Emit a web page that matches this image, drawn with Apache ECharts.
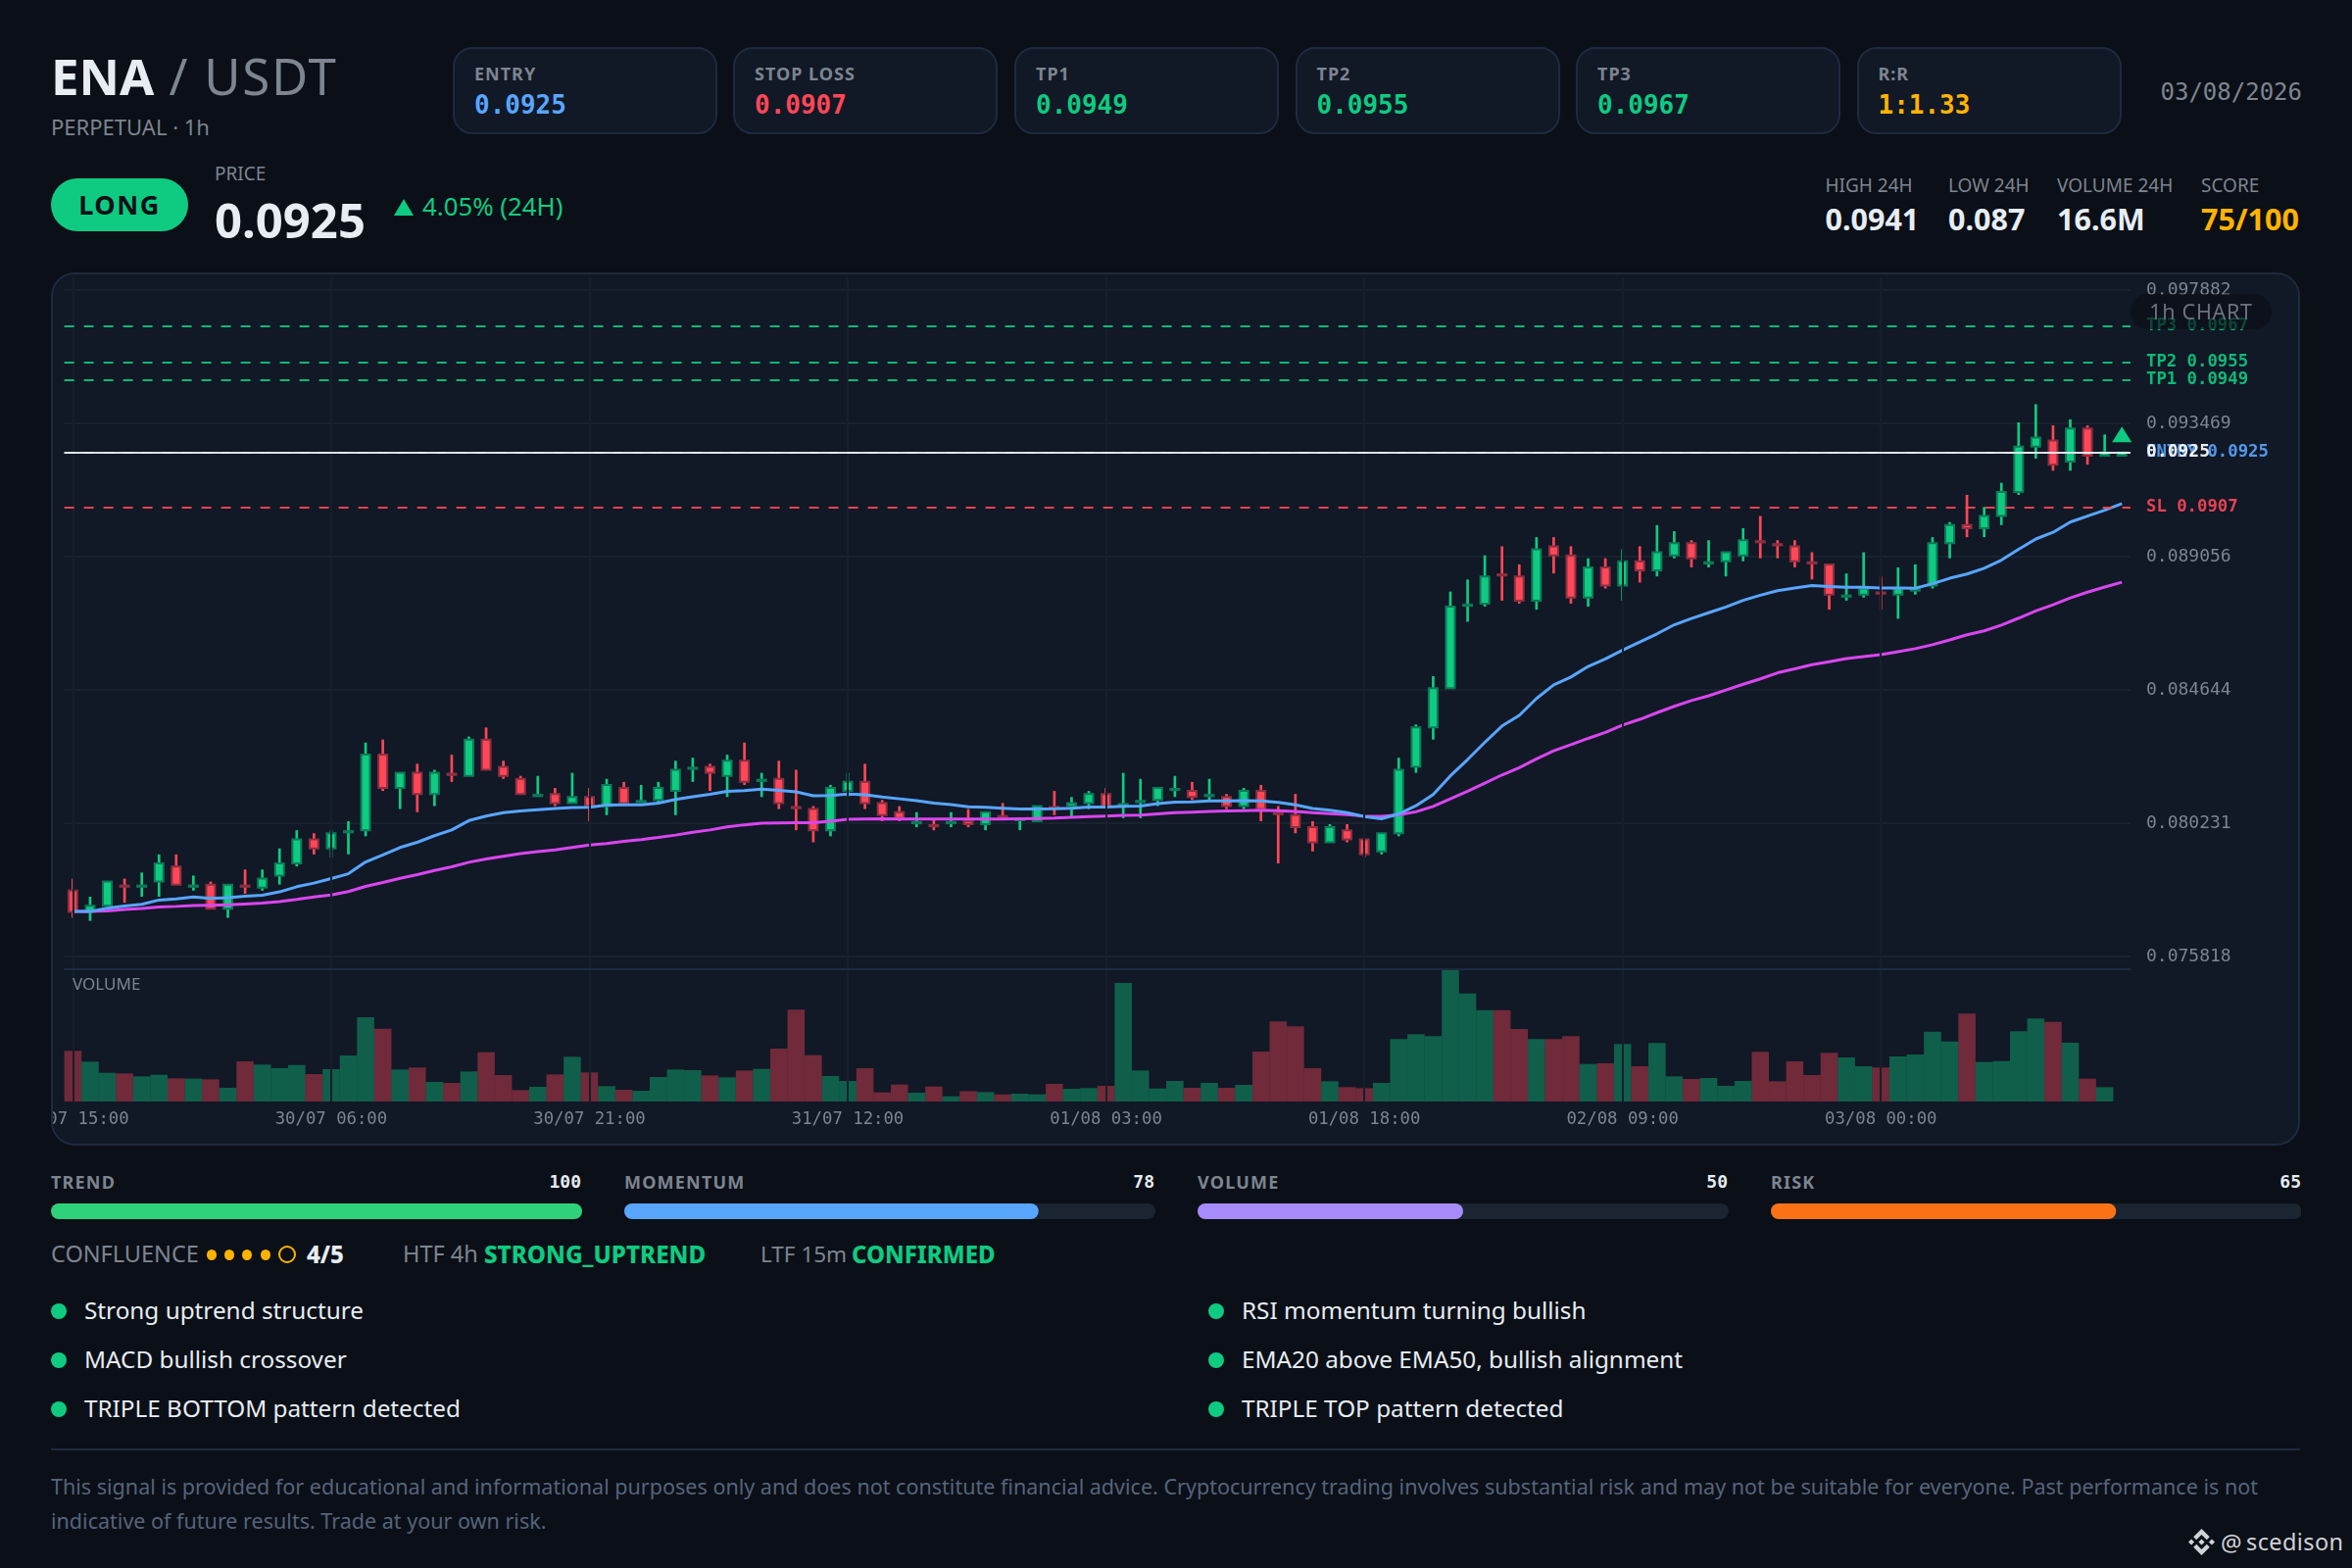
<!DOCTYPE html>
<html><head><meta charset="utf-8">
<script src="https://cdn.jsdelivr.net/npm/echarts@6/dist/echarts.min.js"></script>
<style>
html,body{margin:0;padding:0;background:#0b0f17}
body{width:2400px;height:1600px;position:relative;overflow:hidden;font-family:"Noto Sans",sans-serif;color:#e6edf3}
.t{position:absolute;white-space:nowrap;line-height:1;transform:translateY(-50%)}
.m{font-family:"DejaVu Sans Mono",monospace}
.g{color:#7d8590}
.card{position:absolute;top:48px;width:270px;height:89px;box-sizing:border-box;background:#111826;border:2px solid #1e2a3f;border-radius:20px}
.lab{font-size:18px;font-weight:700;letter-spacing:1px;color:#7d8590}
.val{font-size:26px;font-weight:700}
#panel{position:absolute;left:52px;top:278px;width:2295px;height:891px;box-sizing:border-box;background:#111826;border:2px solid #1e2a3f;border-radius:24px}
#chart{position:absolute;left:54px;top:280px;width:2292px;height:888px}
#pill{position:absolute;left:2174px;top:300px;width:144px;height:36px;border-radius:18px;background:rgba(11,15,23,.68);color:#6b7280;font-size:21.500px;letter-spacing:.7px;line-height:36px;text-align:center}
#scores{position:absolute;left:52px;top:1228px;width:2296px;height:16px}
.dot{position:absolute;border-radius:50%}
</style></head><body>
<div class="t" style="left:52px;top:76.500px;font-size:51px;font-weight:700">ENA<span style="font-weight:400;color:#7d8590;letter-spacing:1.800px"> / USDT</span></div>
<div class="t g" style="left:52px;top:129px;font-size:22px">PERPETUAL · 1h</div>
<div id="cards"></div>
<div class="t m g" style="left:2204.500px;top:94px;font-size:24px">03/08/2026</div>

<div style="position:absolute;left:52px;top:182px;width:140px;height:54px;border-radius:27px;background:#0ecb81;color:#0b0f17;font-size:27px;font-weight:700;letter-spacing:1.500px;line-height:54px;text-align:center">LONG</div>
<div class="t g" style="left:219px;top:177px;font-size:19px">PRICE</div>
<div class="t" style="left:219px;top:224px;font-size:49px;font-weight:700">0.0925</div>
<div style="position:absolute;left:402px;top:203px;width:0;height:0;border-left:10px solid transparent;border-right:10px solid transparent;border-bottom:17px solid #0ecb81"></div>
<div class="t" style="left:431px;top:211px;font-size:25.800px;color:#0ecb81">4.05% (24H)</div>
<div id="stats"></div>

<div id="panel"></div>
<div id="chart"></div>
<div class="t g" style="left:74px;top:1003px;font-size:17px">VOLUME</div>
<div id="pill">1h CHART</div>

<div id="scoreText"></div>
<div id="scores"></div>

<div class="t g" style="left:52px;top:1280px;font-size:23.500px">CONFLUENCE</div>
<div class="dot" style="left:211px;top:1275px;width:10px;height:11px;background:#ffb300"></div>
<div class="dot" style="left:229px;top:1275px;width:10px;height:11px;background:#ffb300"></div>
<div class="dot" style="left:247px;top:1275px;width:10px;height:11px;background:#ffb300"></div>
<div class="dot" style="left:266px;top:1275px;width:10px;height:11px;background:#ffb300"></div>
<div class="dot" style="left:284px;top:1271px;width:14px;height:14px;border:2px solid #ffb300"></div>
<div class="t" style="left:313px;top:1280px;font-size:24px;font-weight:800">4/5</div>
<div class="t g" style="left:411px;top:1280px;font-size:23.500px">HTF 4h</div>
<div class="t" style="left:494px;top:1280px;font-size:24.200px;font-weight:800;color:#0ecb81">STRONG_UPTREND</div>
<div class="t g" style="left:776px;top:1280px;font-size:22.500px">LTF 15m</div>
<div class="t" style="left:869px;top:1280px;font-size:24px;font-weight:800;color:#0ecb81">CONFIRMED</div>
<div id="reasons"></div>

<div style="position:absolute;left:52px;top:1478px;width:2295px;height:2px;background:#1e2a3f"></div>
<div style="position:absolute;left:52px;top:1499px;width:2300px;font-size:21.540px;line-height:35px;color:#55647c;white-space:nowrap">This signal is provided for educational and informational purposes only and does not constitute financial advice. Cryptocurrency trading involves substantial risk and may not be suitable for everyone. Past performance is not<br>indicative of future results. Trade at your own risk.</div>
<svg style="position:absolute;left:2233px;top:1560px" width="27" height="27" viewBox="0 0 126.610 126.610" fill="#cfd3d7"><path d="M38.730 53.200L63.310 28.620l24.590 24.600 14.300-14.310L63.310 0 24.420 38.900zM0 63.310l14.300-14.310 14.310 14.310-14.310 14.300zM38.730 73.410l24.580 24.580 24.590-24.590 14.310 14.290-38.900 38.910-38.910-38.880zM98 63.310l14.300-14.310 14.310 14.300-14.310 14.320zM77.830 63.300L63.310 48.780 52.580 59.510l-1.240 1.230-2.540 2.540 14.510 14.500 14.520-14.510z"/></svg>
<div class="t" style="left:2266px;top:1574px;font-size:24px;color:#cfd3d7">@</div>
<div class="t" style="left:2292px;top:1574px;font-size:23.500px;color:#cfd3d7;letter-spacing:.4px">scedison</div>

<script>
// ---------- chart data ----------
const timeTicks = ['29/07 15:00','30/07 06:00','30/07 21:00','31/07 12:00','01/08 03:00','01/08 18:00','02/08 09:00','03/08 00:00'];
const priceTicks = [0.075818,0.080231,0.084644,0.089056,0.093469,0.097882];
const opens = [.0780,.0773,.0775,.07817,.07813,.0783,.0788,.07813,.0782,.0774,.07817,.0781,.0785,.0789,.0797,.0794,.07993,.0800,.0825,.0814,
.0819,.0812,.08187,.0818,.0830,.0821,.0817,.08113,.0812,.0809,.0811,.0808,.0814,.08093,.0810,.0813,.08203,.0821,.0818,.0823,
.08163,.0817,.08077,.0807,.0800,.0813,.0816,.0809,.0806,.08023,.08017,.08023,.0803,.0802,.08047,.08033,.0803,.08077,.0808,.0809,
.0812,.08083,.08093,.0810,.08133,.0813,.08113,.0811,.0808,.0813,.08057,.0805,.0801,.0796,.0800,.0797,.0793,.0799,.0821,.0834,
.0847,.08743,.0875,.08847,.0884,.0876,.0894,.0891,.0877,.0887,.0881,.0889,.0886,.0891,.0895,.08883,.0889,.0891,.08957,.08947,
.0894,.08887,.0888,.08773,.0878,.08787,.0878,.08793,.0881,.0895,.0901,.0900,.0904,.0912,.0927,.0929,.0922,.0933,.0924,.0924];
const closes = [.0773,.0775,.0783,.07813,.07817,.0789,.0782,.07817,.0774,.0782,.07813,.0784,.0789,.0797,.0794,.0799,.07997,.0825,.0814,.0819,
.0812,.0819,.08183,.0830,.0820,.0818,.0812,.08117,.0809,.0811,.0808,.0815,.0809,.08097,.0814,.0820,.08207,.0819,.0823,.0816,
.08167,.0809,.08073,.0800,.0814,.0816,.0809,.0805,.0804,.08027,.08013,.08027,.0802,.0806,.08043,.08037,.0808,.08073,.0809,.0812,
.0808,.08087,.08097,.0814,.08137,.0811,.08117,.0808,.0813,.0807,.08053,.0801,.0796,.0801,.0797,.0792,.0799,.0820,.0834,.0847,
.0874,.08747,.0884,.08843,.0876,.0893,.0891,.0877,.0887,.0881,.0889,.0886,.0892,.0895,.0890,.08887,.0892,.0896,.08953,.08943,
.0889,.08883,.0878,.08777,.0880,.08783,.0880,.08797,.0895,.0901,.0900,.0904,.0912,.0927,.0930,.0921,.0933,.0924,.0925,.0925];
const highs = [.0784,.0778,.0783,.0784,.0786,.0792,.0792,.0785,.0783,.0782,.0787,.0787,.0794,.0800,.0799,.0800,.0803,.0829,.0830,.0819,
.0822,.0820,.0825,.0831,.0834,.0823,.0818,.0818,.0814,.0819,.0814,.0817,.0816,.0815,.0816,.0823,.0824,.0822,.0825,.0829,
.0819,.0823,.0820,.0808,.0815,.0819,.0822,.0810,.0808,.0806,.0804,.0806,.0807,.0806,.0809,.08037,.0808,.0813,.0811,.0813,
.0814,.0819,.0817,.0814,.0818,.0816,.0817,.0812,.0814,.0815,.0808,.0812,.0803,.0802,.0802,.0797,.0799,.0824,.0835,.0851,
.0879,.0883,.0891,.0894,.0888,.0897,.0897,.0894,.0890,.0890,.0893,.0894,.0901,.0899,.0896,.0896,.0892,.0900,.0904,.0896,
.0896,.0892,.0888,.0885,.0892,.0884,.0887,.0888,.0897,.0902,.0911,.0907,.0915,.0935,.0941,.0934,.0936,.0934,.0931,.0925];
const lows = [.0771,.0770,.0775,.0776,.0778,.0778,.0782,.0780,.0774,.0771,.0779,.0780,.0782,.0788,.0792,.0791,.0792,.0798,.0813,.0807,
.0806,.0808,.0816,.0818,.0820,.0817,.0812,.08113,.0808,.0809,.0803,.0805,.0809,.08093,.0809,.0805,.0816,.0813,.0811,.0815,
.0811,.0807,.0800,.0796,.0798,.0811,.0807,.0803,.0803,.0801,.0800,.0801,.0801,.0800,.0804,.0800,.0803,.0805,.0804,.0807,
.0808,.0804,.0804,.0808,.0811,.0810,.0810,.0807,.0807,.0803,.0789,.0799,.0793,.0796,.0796,.0791,.0792,.0798,.0819,.0830,
.0847,.0869,.0874,.0876,.0875,.0873,.0885,.0875,.0874,.0880,.0876,.0882,.0884,.0890,.0887,.0887,.0884,.0889,.0890,.0890,
.0887,.0883,.0873,.0876,.0877,.0873,.0870,.0878,.0880,.0890,.0897,.0897,.0901,.0911,.0923,.0919,.0919,.0921,.0924,.0924];
const volumes = [776,610,440,430,385,410,355,350,340,210,615,565,510,560,420,495,705,1290,1115,490,
520,300,285,460,755,405,175,225,415,685,445,235,180,165,375,490,480,400,370,475,
500,810,1405,710,390,315,510,140,260,135,230,80,160,145,110,120,110,270,195,205,
240,1815,475,200,315,210,285,210,255,765,1225,1150,510,310,220,205,285,955,1030,1000,
2010,1655,1400,1400,1110,955,955,1000,575,585,880,540,895,385,345,360,240,315,760,310,
615,405,745,675,540,520,690,720,1070,920,1345,605,620,1075,1270,1220,900,350,220,0];
const ema20 = [.07731,.07731,.07742,.07749,.07755,.07769,.07773,.07779,.07774,.07777,.07782,.07785,.07796,.07813,.07825,.07840,.07856,.07895,.07918,.07943,
.07960,.07982,.08001,.08032,.08047,.08058,.08064,.08068,.08072,.08075,.08076,.08083,.08084,.08084,.08090,.08102,.08111,.08119,.08129,.08131,
.08136,.08132,.08127,.08114,.08115,.08120,.08117,.08110,.08104,.08098,.08090,.08085,.08078,.08076,.08073,.08070,.08070,.08071,.08073,.08077,
.08077,.08079,.08080,.08088,.08093,.08094,.08097,.08097,.08098,.08097,.08092,.08084,.08072,.08066,.08058,.08045,.08038,.08054,.08081,.08118,
.08180,.08234,.08291,.08345,.08380,.08436,.08481,.08507,.08542,.08567,.08596,.08623,.08650,.08680,.08701,.08720,.08739,.08761,.08778,.08793,
.08802,.08810,.08807,.08804,.08804,.08802,.08802,.08801,.08816,.08834,.08848,.08867,.08894,.08930,.08964,.08986,.09020,.09040,.09059,.09081];
const ema50 = [.07731,.07731,.07733,.07738,.07741,.07746,.07748,.07751,.07752,.07753,.07756,.07759,.07764,.07771,.07779,.07786,.07797,.07814,.07827,.07841,
.07853,.07867,.07879,.07894,.07905,.07914,.07923,.07929,.07935,.07943,.07951,.07956,.07963,.07969,.07976,.07984,.07993,.08001,.08011,.08018,
.08023,.08024,.08025,.08025,.08030,.08036,.08037,.08038,.08037,.08037,.08037,.08037,.08037,.08037,.08037,.08038,.08039,.08040,.08043,.08045,
.08047,.08049,.08050,.08054,.08058,.08060,.08062,.08064,.08065,.08066,.08065,.08062,.08058,.08055,.08052,.08047,.08046,.08051,.08061,.08079,
.08104,.08129,.08156,.08183,.08207,.08236,.08263,.08283,.08304,.08324,.08348,.08367,.08389,.08410,.08429,.08445,.08464,.08483,.08501,.08521,
.08534,.08548,.08558,.08568,.08575,.08581,.08591,.08601,.08614,.08630,.08647,.08660,.08679,.08702,.08726,.08746,.08769,.08788,.08805,.08821];
const levelNames = ['TP3','TP2','TP1','SL','ENTRY'];
const levelValues = [0.0967,0.0955,0.0949,0.0907,0.0925];
const levelColors = ['#0ecb81','#0ecb81','#0ecb81','#ff4757','#58a6ff'];
const lastPrice = 0.0925;
const signalMarker = [[119,0.0931]];
const scoreNames = ['TREND','MOMENTUM','VOLUME','RISK'];
const scoreValues = [100,78,50,65];
const scoreColors = ['#2fd27a','#58a6ff','#a78bfa','#f97316'];
const cardNames = ['ENTRY','STOP LOSS','TP1','TP2','TP3','R:R'];
const cardValues = ['0.0925','0.0907','0.0949','0.0955','0.0967','1:1.33'];
const cardColors = ['#58a6ff','#ff4757','#0ecb81','#0ecb81','#0ecb81','#ffb300'];
const statNames = ['HIGH 24H','LOW 24H','VOLUME 24H','SCORE'];
const statValues = ['0.0941','0.087','16.6M','75/100'];
const statColors = ['#e6edf3','#e6edf3','#e6edf3','#ffb300'];
const reasonsLeft = ['Strong uptrend structure','MACD bullish crossover','TRIPLE BOTTOM pattern detected'];
const reasonsRight = ['RSI momentum turning bullish','EMA20 above EMA50, bullish alignment','TRIPLE TOP pattern detected'];

// ---------- page text ----------
const add = (id, html) => document.getElementById(id).insertAdjacentHTML('beforeend', html);
const cardX = [462,748,1035,1321.5,1608,1894.5];
cardNames.forEach((n,i)=>add('cards',
 `<div class="card" style="left:${cardX[i]}px"></div>
  <div class="t lab" style="left:${cardX[i]+22}px;top:74.500px">${n}</div>
  <div class="t m val" style="left:${cardX[i]+22}px;top:107px;color:${cardColors[i]}">${cardValues[i]}</div>`));
const statX = [1862.5,1988,2099,2246];
statNames.forEach((n,i)=>add('stats',
 `<div class="t g" style="left:${statX[i]}px;top:189px;font-size:19px">${n}</div>
  <div class="t" style="left:${statX[i]}px;top:223px;font-size:30.500px;font-weight:700;color:${statColors[i]}">${statValues[i]}</div>`));
const scoreX = [52,637,1222,1807], scoreW = 541;
scoreNames.forEach((n,i)=>add('scoreText',
 `<div class="t" style="left:${scoreX[i]}px;top:1206px;font-size:18px;font-weight:700;letter-spacing:1.200px;color:#7d8590">${n}</div>
  <div class="t m" style="left:${scoreX[i]+scoreW-60}px;width:60px;text-align:right;top:1206px;font-size:18px;font-weight:700">${scoreValues[i]}</div>`));
[[reasonsLeft,52],[reasonsRight,1233]].forEach(([list,x])=>list.forEach((r,i)=>add('reasons',
 `<div class="dot" style="left:${x}px;top:${1329.500+i*50}px;width:16px;height:16px;background:#0ecb81"></div>
  <div class="t" style="left:${x+34}px;top:${1336.500+i*50}px;font-size:24.300px">${r}</div>`)));

// ---------- main chart ----------
const UP='#0ecb81', DOWN='#ff4757';
const categories = opens.map((_,i)=> i%15===0 ? timeTicks[i/15] : '');
const candleData = opens.map((o,i)=>[i,o,closes[i],lows[i],highs[i]]);
const volData = volumes.map((v,i)=>({value:v,itemStyle:{color: closes[i]>=opens[i]?'rgba(14,203,129,.4)':'rgba(255,71,87,.4)'}}));

function renderCandle(params, api){
  const i=api.value(0), o=api.value(1), c=api.value(2), l=api.value(3), h=api.value(4);
  const up=c>=o, col=up?UP:DOWN, edge=up?'#0c7a57':'#8b2f41';
  const x=api.coord([i,o])[0];
  const yo=api.coord([i,o])[1], yc=api.coord([i,c])[1], yl=api.coord([i,l])[1], yh=api.coord([i,h])[1];
  const top=Math.min(yo,yc), hgt=Math.max(Math.abs(yo-yc),1);
  return {type:'group',children:[
    {type:'line',shape:{x1:x,y1:yh,x2:x,y2:yl},style:{stroke:col,lineWidth:2.700}},
    {type:'rect',shape:{x:x-4.500,y:top,width:9,height:hgt},style:{fill:col,stroke:edge,lineWidth:2}}
  ]};
}
const monoFont='"DejaVu Sans Mono",monospace';
const chart = echarts.init(document.getElementById('chart'),null,{renderer:'canvas'});
const gridL=11.600, gridW=2108.400;
const levelLines = levelNames.map((n,i)=>({
  yAxis:levelValues[i],
  lineStyle:{color:levelColors[i],type:[10,10],width:2,opacity:.9},
  label:{show:true,position:'end',distance:16,formatter:n+' '+levelValues[i].toFixed(4),color:levelColors[i],
         fontFamily:monoFont,fontWeight:'bold',fontSize:17.300}
}));
chart.setOption({
  animation:false,
  backgroundColor:'transparent',
  grid:[{left:gridL,width:gridW,top:3,height:706,outerBoundsMode:'none'},{left:gridL,width:gridW,top:710,height:134,outerBoundsMode:'none'}],
  xAxis:[
    {type:'category',gridIndex:0,data:categories,z:5,
     axisLine:{show:true,onZero:false,lineStyle:{color:'#1e2a3f',width:2}},axisTick:{show:false},axisLabel:{show:false},
     splitLine:{show:true,interval:14,alignWithLabel:true,lineStyle:{color:'#161f2c',width:2}}},
    {type:'category',gridIndex:1,data:categories,z:5,
     axisLine:{show:false},axisTick:{show:false},
     axisLabel:{show:true,interval:14,margin:10,color:'#7d8590',fontFamily:monoFont,fontSize:17.300},
     splitLine:{show:true,interval:14,alignWithLabel:true,lineStyle:{color:'#161f2c',width:2}}}
  ],
  yAxis:[
    {type:'value',gridIndex:0,position:'right',min:0.0754,max:0.0983,scale:true,
     axisLine:{show:false},axisTick:{show:false,customValues:priceTicks},
     axisLabel:{customValues:priceTicks,margin:16,color:'#7d8590',fontFamily:monoFont,fontSize:18,formatter:v=>v.toFixed(6)},
     splitLine:{show:true,lineStyle:{color:'#18232f',width:2}}},
    {type:'value',gridIndex:1,min:0,max:2010,show:false,splitLine:{show:false}}
  ],
  series:[
    {type:'line',name:'levels',xAxisIndex:0,yAxisIndex:0,data:closes,z:1,silent:true,showSymbol:false,lineStyle:{opacity:0},
     markLine:{silent:true,symbol:'none',animation:false,precision:6,data:levelLines}},
    {type:'bar',name:'volume',xAxisIndex:1,yAxisIndex:1,data:volData,barWidth:'100%',z:2},
    {type:'custom',name:'candles',xAxisIndex:0,yAxisIndex:0,data:candleData,renderItem:renderCandle,
     encode:{x:0,y:[1,2,3,4]},z:2,clip:false},
    {type:'line',name:'EMA50',xAxisIndex:0,yAxisIndex:0,data:ema50,showSymbol:false,z:3,lineStyle:{color:'#d946ef',width:3}},
    {type:'line',name:'EMA20',xAxisIndex:0,yAxisIndex:0,data:ema20,showSymbol:false,z:3,lineStyle:{color:'#58a6ff',width:3}},
    {type:'line',name:'last',xAxisIndex:0,yAxisIndex:0,data:closes,z:4,silent:true,showSymbol:false,lineStyle:{opacity:0},
     markLine:{silent:true,symbol:'none',animation:false,precision:6,data:[{
       yAxis:lastPrice,lineStyle:{color:'#eef2f6',type:'solid',width:2,opacity:.92},
       label:{show:true,position:'end',distance:16,formatter:lastPrice.toFixed(4),color:'#ffffff',fontFamily:monoFont,fontWeight:'bold',fontSize:18}
     }]}},
    {type:'scatter',name:'signal',xAxisIndex:0,yAxisIndex:0,data:signalMarker,symbol:'triangle',symbolSize:[20,16],z:4,
     itemStyle:{color:'#0ecb81',opacity:1}}
  ]
});

// ---------- score bars ----------
const sc = echarts.init(document.getElementById('scores'),null,{renderer:'canvas'});
sc.setOption({
  animation:false,
  grid:scoreX.map(x=>({left:x-52,width:scoreW+1,top:0,height:16,outerBoundsMode:'none'})),
  xAxis:scoreX.map((_,i)=>({type:'value',gridIndex:i,min:0,max:100,show:false})),
  yAxis:scoreX.map((_,i)=>({type:'category',gridIndex:i,data:[scoreNames[i]],show:false})),
  series:scoreValues.map((v,i)=>({type:'bar',xAxisIndex:i,yAxisIndex:i,data:[v],barWidth:16,
    itemStyle:{color:scoreColors[i],borderRadius:8},
    showBackground:true,backgroundStyle:{color:'#1b2431',borderRadius:8}}))
});
</script>
</body></html>
